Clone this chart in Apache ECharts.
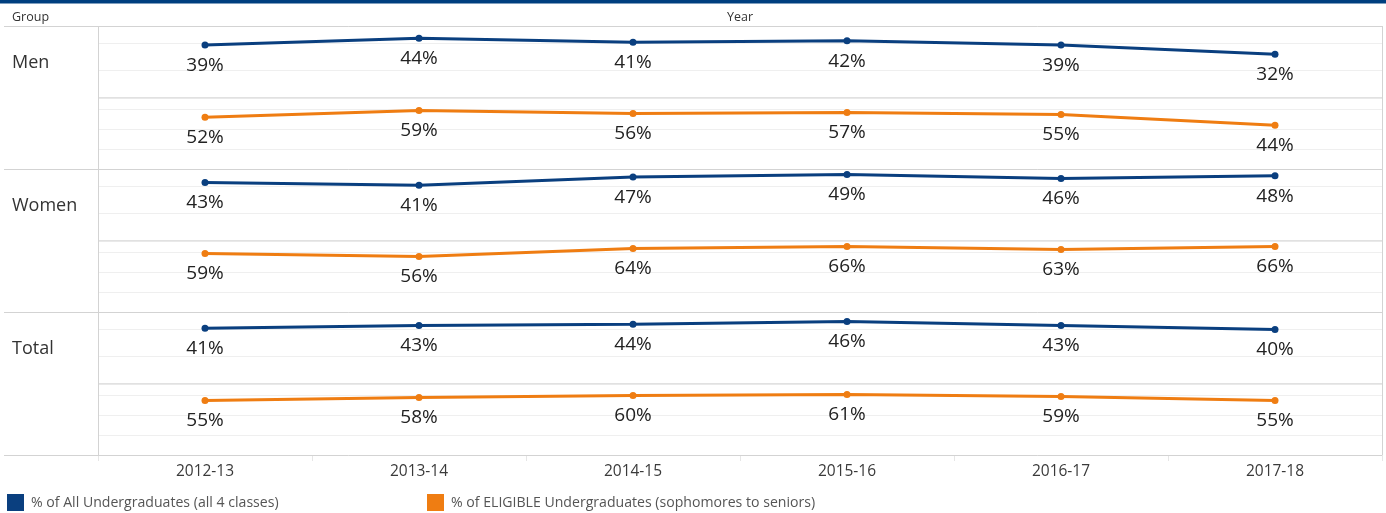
<!DOCTYPE html>
<html>
<head>
<meta charset="utf-8">
<script src="https://cdn.jsdelivr.net/npm/echarts@6/dist/echarts.min.js"></script>
<style>
html,body{margin:0;padding:0;background:#fff;}
#chart{width:1386px;height:513px;}
</style>
</head>
<body>
<div id="chart"></div>
<script>
// ---- data ----
const years = ['2012-13', '2013-14', '2014-15', '2015-16', '2016-17', '2017-18'];
const groups = ['Men', 'Women', 'Total'];
const measureAll = '% of All Undergraduates (all 4 classes)';
const measureEligible = '% of ELIGIBLE Undergraduates (sophomores to seniors)';
const menAll = [39, 44, 41, 42, 39, 32];
const menEligible = [52, 59, 56, 57, 55, 44];
const womenAll = [43, 41, 47, 49, 46, 48];
const womenEligible = [59, 56, 64, 66, 63, 66];
const totalAll = [41, 43, 44, 46, 43, 40];
const totalEligible = [55, 58, 60, 61, 59, 55];

// ---- layout / style ----
const FONT = '"Open Sans", "Noto Sans", sans-serif';
const BLUE = '#0a3f7f';
const ORANGE = '#ef7d12';
const BORDER = '#d3d3d3';
const GRID_LINE = '#efefef';
const LEFT = 98, RIGHT_X = 1382;
const groupTops = [26, 169, 312];
const groupH = 143;
const panelH = 71.5;

const panels = [
  {data: menAll, name: measureAll, color: BLUE, max: 53},
  {data: menEligible, name: measureEligible, color: ORANGE, max: 72},
  {data: womenAll, name: measureAll, color: BLUE, max: 53},
  {data: womenEligible, name: measureEligible, color: ORANGE, max: 72},
  {data: totalAll, name: measureAll, color: BLUE, max: 53},
  {data: totalEligible, name: measureEligible, color: ORANGE, max: 72}
];

const grid = [], xAxis = [], yAxis = [], series = [];
panels.forEach((p, i) => {
  const g = Math.floor(i / 2);
  const top = groupTops[g] + (i % 2) * panelH;
  const last = i === panels.length - 1;
  grid.push({left: LEFT, right: 1386 - RIGHT_X, top: top, height: panelH});
  xAxis.push({
    type: 'category', gridIndex: i, data: years, boundaryGap: true,
    axisLine: {show: false},
    axisTick: {show: last, interval: 0, length: 6, lineStyle: {color: '#e6e6e6'}},
    axisLabel: {show: last, fontFamily: FONT, fontSize: 15.5, color: '#3a3a3a', margin: 9}
  });
  yAxis.push({
    type: 'value', gridIndex: i, min: 0, max: p.max, interval: 20,
    axisLine: {show: false}, axisTick: {show: false}, axisLabel: {show: false},
    splitLine: {show: true, lineStyle: {color: GRID_LINE, width: 1}}
  });
  series.push({
    type: 'line', name: p.name, xAxisIndex: i, yAxisIndex: i, data: p.data,
    symbol: 'circle', symbolSize: 7,
    itemStyle: {color: p.color},
    lineStyle: {color: p.color, width: 3},
    label: {show: true, position: 'bottom', distance: 7.5, formatter: '{c}%',
            fontFamily: FONT, fontSize: 19, color: '#222'},
    emphasis: {disabled: true},
    animation: false
  });
});

const graphic = [];
function hline(y, x1, x2) {
  graphic.push({type: 'line', z: 100, silent: true,
    shape: {x1: x1, y1: y, x2: x2, y2: y}, style: {stroke: BORDER, lineWidth: 1}});
}
function vline(x, y1, y2) {
  graphic.push({type: 'line', z: 100, silent: true,
    shape: {x1: x, y1: y1, x2: x, y2: y2}, style: {stroke: BORDER, lineWidth: 1}});
}
graphic.push({type: 'rect', silent: true, shape: {x: 0, y: 0, width: 1386, height: 3.5}, style: {fill: '#003f7f'}});
graphic.push({type: 'text', silent: true, x: 12, y: 17.5,
  style: {text: 'Group', font: '12.5px ' + FONT, fill: '#333', verticalAlign: 'middle'}});
graphic.push({type: 'text', silent: true, x: 740, y: 17.5,
  style: {text: 'Year', font: '12.5px ' + FONT, fill: '#333', align: 'center', verticalAlign: 'middle'}});
groupTops.forEach((t, g) => {
  hline(t + 0.5, 4, RIGHT_X);
  hline(t + panelH + 0.5, LEFT, RIGHT_X);
  graphic.push({type: 'text', silent: true, x: 12, y: t + 37,
    style: {text: groups[g], font: '18px ' + FONT, fill: '#333', verticalAlign: 'middle'}});
});
hline(groupTops[2] + groupH + 0.5, 4, RIGHT_X);
vline(LEFT + 0.5, groupTops[0], groupTops[2] + groupH);
vline(RIGHT_X + 0.5, groupTops[0], groupTops[2] + groupH);

const legendBase = {
  orient: 'horizontal', top: 494, icon: 'rect', itemWidth: 17, itemHeight: 17,
  padding: 0, selectedMode: false,
  textStyle: {fontFamily: FONT, fontSize: 14.1, color: '#555', padding: [4, 0, 0, 2]}
};

const chart = echarts.init(document.getElementById('chart'), null, {renderer: 'canvas'});
chart.setOption({
  animation: false,
  grid: grid, xAxis: xAxis, yAxis: yAxis, series: series,
  legend: [
    Object.assign({}, legendBase, {left: 7, data: [measureAll]}),
    Object.assign({}, legendBase, {left: 427, data: [measureEligible]})
  ],
  graphic: graphic
});
</script>
</body>
</html>
